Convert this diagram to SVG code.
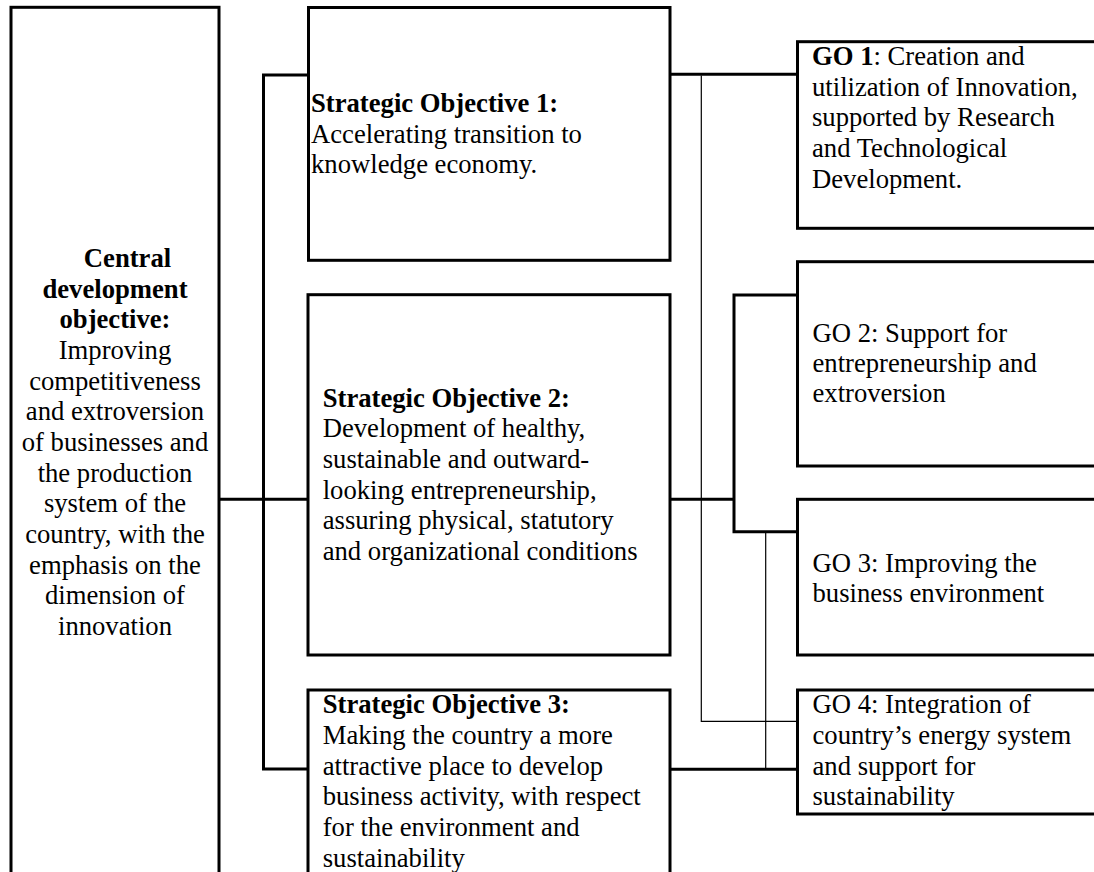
<svg xmlns="http://www.w3.org/2000/svg" width="1094" height="872" viewBox="0 0 1094 872">
<style>
  .box { fill: #ffffff; stroke: #000000; stroke-width: 3; }
  .thick { fill: none; stroke: #000000; stroke-width: 3; }
  .thin { fill: none; stroke: #000000; stroke-width: 1.2; }
  text { font-family: "Liberation Serif", "Times New Roman", serif; font-size: 26.67px; fill: #000000; }
  .b { font-weight: bold; }
  .c { text-anchor: middle; }
</style>
<rect x="0" y="0" width="1094" height="872" fill="#ffffff"/>

<g id="connectors">
  <polyline class="thick" points="308,75 263.5,75 263.5,769 308,769"/>
  <line class="thick" x1="219" y1="499.3" x2="308" y2="499.3"/>
  <line class="thick" x1="670" y1="74.3" x2="797.5" y2="74.3"/>
  <polyline class="thin" points="701.3,75.5 701.3,721.3 797.5,721.3"/>
  <line class="thick" x1="670" y1="499.3" x2="734" y2="499.3"/>
  <polyline class="thick" points="797.5,295 734,295 734,531.7 797.5,531.7"/>
  <line class="thin" x1="765.7" y1="533" x2="765.7" y2="769"/>
  <line class="thick" x1="670" y1="769.3" x2="797.5" y2="769.3"/>
</g>

<g id="central">
  <rect class="box" x="11" y="7.3" width="208" height="900"/>
  <text class="b c" x="127.5" y="267">Central</text>
  <text class="b c" x="115" y="297.7">development</text>
  <text class="b c" x="115" y="328.3">objective:</text>
  <text class="c" x="115" y="359">Improving</text>
  <text class="c" x="115" y="389.7">competitiveness</text>
  <text class="c" x="115" y="420.3">and extroversion</text>
  <text class="c" x="115" y="451">of businesses and</text>
  <text class="c" x="115" y="481.7">the production</text>
  <text class="c" x="115" y="512.3">system of the</text>
  <text class="c" x="115" y="543">country, with the</text>
  <text class="c" x="115" y="573.7">emphasis on the</text>
  <text class="c" x="115" y="604.3">dimension of</text>
  <text class="c" x="115" y="635">innovation</text>
</g>

<g id="so1">
  <rect class="box" x="308.5" y="7.5" width="361.5" height="252.8"/>
  <text class="b" x="311" y="112">Strategic Objective 1:</text>
  <text x="311" y="142.7">Accelerating transition to</text>
  <text x="311" y="173.3">knowledge economy.</text>
</g>

<g id="so2">
  <rect class="box" x="308" y="294.7" width="362" height="360.3"/>
  <text class="b" x="322.7" y="406.7">Strategic Objective 2:</text>
  <text x="322.7" y="437.3">Development of healthy,</text>
  <text x="322.7" y="468">sustainable and outward-</text>
  <text x="322.7" y="498.7">looking entrepreneurship,</text>
  <text x="322.7" y="529.3">assuring physical, statutory</text>
  <text x="322.7" y="560">and organizational conditions</text>
</g>

<g id="so3">
  <rect class="box" x="308" y="690" width="362" height="300"/>
  <text class="b" x="322.7" y="713.3">Strategic Objective 3:</text>
  <text x="322.7" y="744">Making the country a more</text>
  <text x="322.7" y="774.7">attractive place to develop</text>
  <text x="322.7" y="805.3">business activity, with respect</text>
  <text x="322.7" y="836">for the environment and</text>
  <text x="322.7" y="866.7">sustainability</text>
</g>

<g id="go1">
  <rect class="box" x="797.5" y="41.7" width="320" height="186.6"/>
  <text x="812" y="65"><tspan class="b">GO 1</tspan>: Creation and</text>
  <text x="812" y="95.7">utilization of Innovation,</text>
  <text x="812" y="126.3">supported by Research</text>
  <text x="812" y="157">and Technological</text>
  <text x="812" y="187.7">Development.</text>
</g>

<g id="go2">
  <rect class="box" x="797.5" y="261.7" width="320" height="204.3"/>
  <text x="812.5" y="341.7">GO 2: Support for</text>
  <text x="812.5" y="372">entrepreneurship and</text>
  <text x="812.5" y="402.3">extroversion</text>
</g>

<g id="go3">
  <rect class="box" x="797.5" y="499.3" width="320" height="155.7"/>
  <text x="812.5" y="571.7">GO 3: Improving the</text>
  <text x="812.5" y="602">business environment</text>
</g>

<g id="go4">
  <rect class="box" x="797.5" y="690" width="320" height="124"/>
  <text x="812.5" y="713.3">GO 4: Integration of</text>
  <text x="812.5" y="744">country’s energy system</text>
  <text x="812.5" y="774.7">and support for</text>
  <text x="812.5" y="805.3">sustainability</text>
</g>
</svg>
